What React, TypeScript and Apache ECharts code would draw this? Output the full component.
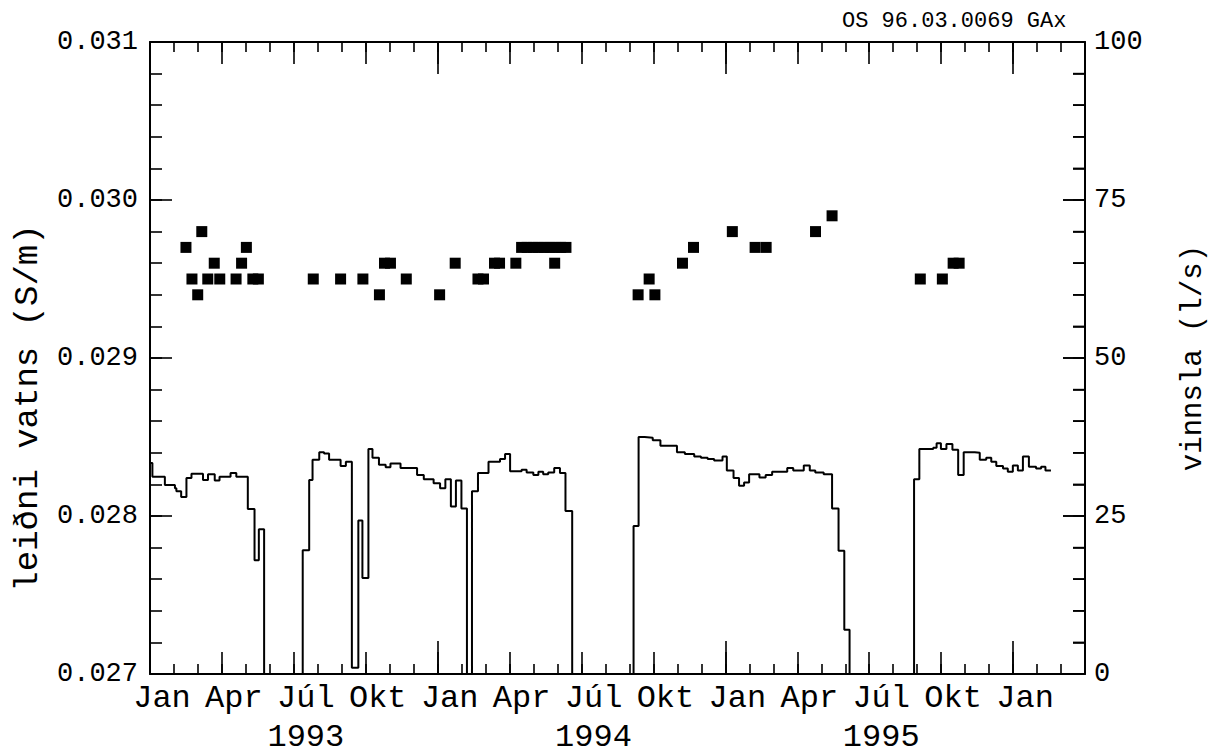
import React, { useEffect, useRef } from "react";
import * as echarts from "echarts";

// x values are months since 1 Jan 1993
const monthLabelPos = [0.5, 3.5, 6.5, 9.5, 12.5, 15.5, 18.5, 21.5, 24.5, 27.5, 30.5, 33.5, 36.5];
const monthLabelNames = ["Jan", "Apr", "Júl", "Okt", "Jan", "Apr", "Júl", "Okt", "Jan", "Apr", "Júl", "Okt", "Jan"];
const yearLabelPos = [6.5, 18.5, 30.5];
const yearLabelNames = ["1993", "1994", "1995"];

// right y-axis tick marks
const rightMajorTicks = [0, 25, 50, 75, 100];
const rightMinorTicks = [5, 10, 15, 20, 30, 35, 40, 45, 55, 60, 65, 70, 80, 85, 90, 95];

// conductivity samples (S/m): [month, value]
const conductivity: [number, number][] = [
  [1.5, 0.0297], [1.75, 0.0295], [1.99, 0.0294], [2.16, 0.0298], [2.41, 0.0295],
  [2.68, 0.0296], [2.91, 0.0295], [3.59, 0.0295], [3.82, 0.0296], [4.02, 0.0297],
  [4.29, 0.0295], [4.52, 0.0295], [6.81, 0.0295], [7.95, 0.0295], [8.88, 0.0295],
  [9.57, 0.0294], [9.78, 0.0296], [10.03, 0.0296], [10.69, 0.0295], [12.08, 0.0294],
  [12.73, 0.0296], [13.68, 0.0295], [13.91, 0.0295], [14.37, 0.0296], [14.58, 0.0296],
  [15.26, 0.0296], [15.5, 0.0297], [15.73, 0.0297], [15.97, 0.0297], [16.2, 0.0297],
  [16.44, 0.0297], [16.67, 0.0297], [16.9, 0.0297], [17.13, 0.0297], [17.35, 0.0297],
  [16.88, 0.0296], [20.36, 0.0294], [20.82, 0.0295], [21.06, 0.0294], [22.21, 0.0296],
  [22.67, 0.0297], [24.29, 0.0298], [25.24, 0.0297], [25.7, 0.0297], [27.76, 0.0298],
  [28.45, 0.0299], [32.13, 0.0295], [33.05, 0.0295], [33.5, 0.0296], [33.75, 0.0296],
];

// production (l/s): [month when level starts, level]
const production: [number, number][] = [
  [0, 33.4], [0.1, 31.2], [0.62, 29.9], [1.04, 29.4], [1.1, 28.9], [1.3, 28.0],
  [1.52, 31.0], [1.73, 31.7], [2.21, 30.7], [2.42, 31.6], [2.7, 30.6], [2.9, 31.2],
  [3.36, 31.8], [3.6, 31.2], [4.08, 26.1], [4.36, 18.0], [4.54, 22.9], [4.76, 0],
  [6.37, 19.6], [6.64, 30.7], [6.78, 33.9], [7.06, 35.1], [7.26, 34.9], [7.47, 33.9],
  [7.95, 32.9], [8.17, 33.6], [8.42, 1.0], [8.69, 24.3], [8.86, 15.2], [9.11, 35.6],
  [9.28, 34.2], [9.55, 33.1], [9.83, 32.7], [10.03, 33.3], [10.45, 32.6], [11.14, 31.5],
  [11.42, 30.8], [11.83, 30.2], [12.1, 29.4], [12.32, 30.8], [12.55, 26.5], [12.76, 30.6],
  [12.99, 26.2], [13.22, 0], [13.43, 28.9], [13.68, 31.8], [14.12, 33.6], [14.6, 34.0],
  [14.81, 34.8], [15.02, 32.1], [15.5, 32.3], [15.71, 31.9], [15.99, 31.5], [16.2, 32.0],
  [16.4, 31.6], [16.61, 31.9], [16.86, 32.6], [17.1, 31.8], [17.33, 25.8], [17.61, 0],
  [20.17, 23.4], [20.38, 37.5], [20.63, 37.4], [20.97, 37.0], [21.29, 36.1], [21.98, 35.1],
  [22.31, 34.8], [22.7, 34.4], [22.98, 34.2], [23.26, 34.0], [23.53, 33.8], [23.88, 34.4],
  [24.06, 32.2], [24.34, 31.0], [24.57, 29.8], [24.78, 30.3], [24.99, 31.6], [25.42, 31.1],
  [25.68, 31.5], [25.95, 32.0], [26.58, 32.6], [26.83, 32.2], [27.27, 33.0], [27.52, 32.2],
  [27.75, 31.9], [28.1, 31.6], [28.45, 26.2], [28.72, 19.5], [28.96, 7.0], [29.18, 0],
  [31.87, 30.8], [32.09, 35.6], [32.67, 35.8], [32.81, 36.5], [32.99, 35.6], [33.22, 36.4],
  [33.47, 35.5], [33.71, 31.5], [33.94, 35.1], [34.4, 35.0], [34.61, 33.9], [34.88, 34.2],
  [35.09, 33.6], [35.3, 32.9], [35.58, 32.5], [35.78, 32.0], [35.99, 33.0], [36.2, 32.2],
  [36.41, 34.4], [36.66, 32.8], [36.96, 32.5], [37.17, 32.8], [37.35, 32.2], [37.58, 32.2],
];

const FONT = "'Liberation Mono', 'DejaVu Sans Mono', monospace";
const BLACK = "#000";
const X_MIN = 0;
const X_MAX = 39;

function labelFor(positions: number[], names: string[]) {
  return (v: number) => {
    for (let i = 0; i < positions.length; i++) {
      if (Math.abs(positions[i] - v) < 0.01) return names[i];
    }
    return "";
  };
}

export default function App() {
  const ref = useRef<HTMLDivElement>(null);
  useEffect(() => {
    document.body.style.margin = "0";
    const chart = echarts.init(ref.current!, null, { renderer: "svg" });
    const tickLine = { color: BLACK, width: 1.6 };
    const noSplit = { splitLine: { show: false }, minorSplitLine: { show: false } };
    const xTicks = (position: string, interval: number, length: number, line: boolean, label?: any) => ({
      type: "value",
      min: X_MIN,
      max: X_MAX,
      position,
      interval,
      ...noSplit,
      axisLine: { show: line, lineStyle: { color: BLACK, width: 2 } },
      axisTick: { show: true, inside: true, length, lineStyle: tickLine },
      axisLabel: label ? label : { show: false },
    });
    const leftTicks = (interval: number, length: number, line: boolean, label?: any) => ({
      type: "value",
      position: "left",
      min: 0.027,
      max: 0.031,
      interval,
      ...noSplit,
      axisLine: { show: line, lineStyle: { color: BLACK, width: 2 } },
      axisTick: { show: true, inside: true, length, lineStyle: tickLine },
      axisLabel: label ? label : { show: false },
    });
    const rightTicks = (interval: number, length: number, line: boolean, label?: any) => ({
      type: "value",
      position: "right",
      min: 0,
      max: 100,
      interval,
      ...noSplit,
      axisLine: { show: line, onZero: false, lineStyle: { color: BLACK, width: 2 } },
      axisTick: { show: true, inside: true, length, lineStyle: tickLine },
      axisLabel: label ? label : { show: false },
    });
    const texts = [
      {
        type: "text",
        x: 28,
        y: 408,
        rotation: Math.PI / 2,
        style: {
          text: "leiðni vatns (S/m)",
          fontSize: 34,
          fontFamily: FONT,
          fill: BLACK,
          align: "center",
          verticalAlign: "middle",
        },
      },
      {
        type: "text",
        x: 1193,
        y: 358,
        rotation: Math.PI / 2,
        style: {
          text: "vinnsla (l/s)",
          fontSize: 29,
          fontFamily: FONT,
          fill: BLACK,
          align: "center",
          verticalAlign: "middle",
        },
      },
      {
        type: "text",
        x: 842,
        y: 21,
        style: {
          text: "OS 96.03.0069 GAx",
          fontSize: 22,
          fontFamily: FONT,
          fill: BLACK,
          align: "left",
          verticalAlign: "middle",
        },
      },
    ];
    chart.setOption({
      animation: false,
      backgroundColor: "#fff",
      grid: { left: 150, right: 131, top: 42, bottom: 81, containLabel: false },
      xAxis: [
        xTicks("bottom", 1, 10, true, {
          show: true,
          customValues: monthLabelPos,
          formatter: labelFor(monthLabelPos, monthLabelNames),
          margin: 8,
          fontSize: 32,
          fontFamily: FONT,
          color: BLACK,
        }),
        xTicks("bottom", 3, 22, false),
        xTicks("bottom", 12, 33, false, {
          show: true,
          customValues: yearLabelPos,
          formatter: labelFor(yearLabelPos, yearLabelNames),
          margin: 47,
          fontSize: 32,
          fontFamily: FONT,
          color: BLACK,
        }),
        xTicks("top", 1, 10, true),
        xTicks("top", 3, 22, false),
        xTicks("top", 12, 32, false),
      ],
      yAxis: [
        leftTicks(0.001, 22, true, {
          formatter: (v: number) => v.toFixed(3),
          margin: 12,
          fontSize: 27,
          fontFamily: FONT,
          color: BLACK,
        }),
        rightTicks(25, 22, true, {
          formatter: (v: number) => String(Math.round(v)),
          margin: 9,
          fontSize: 27,
          fontFamily: FONT,
          color: BLACK,
        }),
        leftTicks(0.0002, 12, false),
        rightTicks(5, 12, false),
      ],
      series: [
        {
          type: "line",
          name: "vinnsla",
          xAxisIndex: 0,
          yAxisIndex: 1,
          step: "end",
          showSymbol: false,
          symbol: "none",
          lineStyle: { color: BLACK, width: 2 },
          data: production,
          z: 3,
        },
        {
          type: "scatter",
          name: "leiðni",
          xAxisIndex: 0,
          yAxisIndex: 0,
          symbol: "rect",
          symbolSize: 11,
          itemStyle: { color: BLACK, opacity: 1 },
          data: conductivity,
          z: 4,
        },
      ],
      graphic: texts,
    });

    // inward tick marks on the right axis, placed through the axes' own scales
    const xRight = chart.convertToPixel({ xAxisIndex: 0 }, X_MAX) as number;
    const tickEls: any[] = [];
    const addTicks = (values: number[], len: number) => {
      values.forEach((v) => {
        const y = chart.convertToPixel({ yAxisIndex: 1 }, v) as number;
        if (typeof y !== "number" || !isFinite(y) || typeof xRight !== "number") return;
        tickEls.push({
          type: "line",
          silent: true,
          z: 10,
          shape: { x1: xRight, y1: y, x2: xRight - len, y2: y },
          style: { stroke: BLACK, lineWidth: 1.6 },
        });
      });
    };
    addTicks(rightMajorTicks, 22);
    addTicks(rightMinorTicks, 12);
    chart.setOption({ graphic: [...texts, ...tickEls] });

    return () => chart.dispose();
  }, []);
  return <div ref={ref} style={{ width: 1216, height: 755 }} />;
}
